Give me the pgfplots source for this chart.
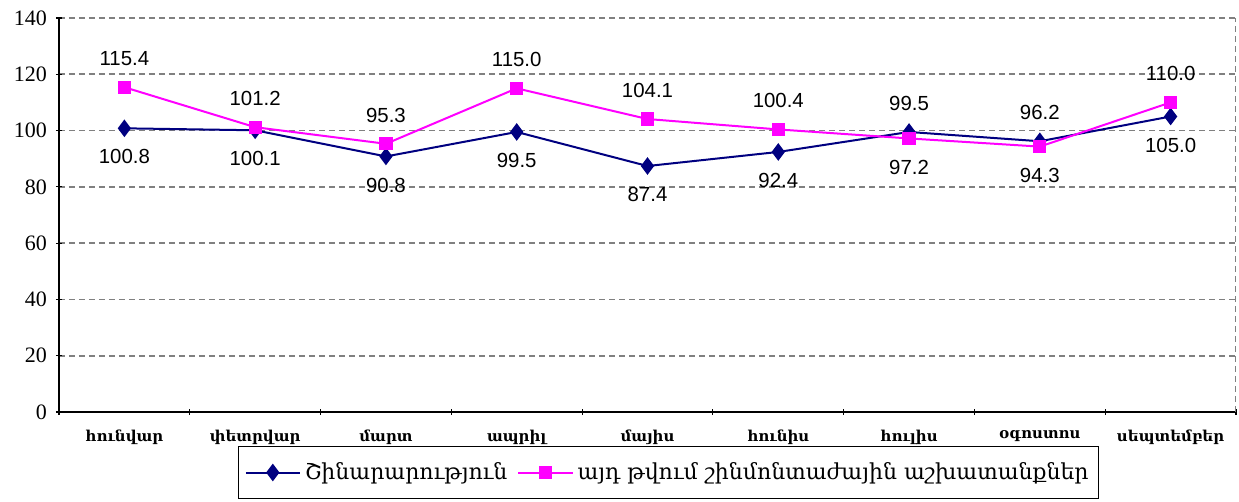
\documentclass[border=0pt]{standalone}
\usepackage{fontspec}
\setmainfont{Liberation Serif}
\newfontfamily\armfont{DejaVu Serif}
\newfontfamily\arial{Liberation Sans}
\usepackage{pgfplots}
\pgfplotsset{compat=1.18}
\definecolor{navyc}{RGB}{0,0,128}
\definecolor{magc}{RGB}{255,0,255}
\begin{document}
\begin{tikzpicture}
\begin{axis}[
  at={(0,0)}, anchor=south west,
  scale only axis,
  width=588.5pt, height=197pt,
  xmin=-0.5, xmax=8.5,
  ymin=0, ymax=140,
  ytick={0,20,...,140},
  xtick={0,...,8},
  xticklabels={հունվար,փետրվար,մարտ,ապրիլ,մայիս,հունիս,հուլիս,օգոստոս,սեպտեմբեր},
  minor xtick={-0.5,0.5,...,8.5},
  major x tick style={draw=none},
  minor tick length=3pt,
  major tick length=3pt,
  tick align=outside,
  tick style={black, line width=0.6pt},
  axis lines=left,
  axis line style={-, black, line width=0.6pt},
  ymajorgrids,
  major grid style={gray, dash pattern=on 3pt off 2pt, line width=0.9pt},
  /pgf/number format/assume math mode=true,
  yticklabel style={font=\fontsize{11}{13}\selectfont, xshift=-1pt},
  xticklabel style={font=\armfont\bfseries\fontsize{7.5}{9}\selectfont, yshift=-4pt},
  legend columns=2,
  legend style={at={(0.518,-0.1536)}, anchor=center, draw=black, line width=0.6pt,
    font=\armfont\fontsize{11}{13}\selectfont, inner xsep=3pt, inner ysep=6pt,
    /tikz/every even column/.append style={column sep=3pt}},
  legend image code/.code={\draw[#1] (0cm,0cm) -- (0.95cm,0cm); \draw[#1, only marks] plot coordinates {(0.475cm,0cm)};},
  lbl/.style={draw=none, mark=none, forget plot, nodes near coords, point meta=explicit symbolic,
    every node near coord/.append style={font=\arial\fontsize{10.2}{12}\selectfont, black, anchor=#1, inner ysep=10.5pt}},
]
\addplot[navyc, line width=1pt, mark=diamond*, mark size=3.6pt, mark options={solid, fill=navyc}]
  coordinates {(0,100.8) (1,100.1) (2,90.8) (3,99.5) (4,87.4) (5,92.4) (6,99.5) (7,96.2) (8,105.0)};
\addlegendentry{Շինարարություն}
\addplot[magc, line width=1pt, mark=square*, mark size=2.8pt, mark options={solid, fill=magc}]
  coordinates {(0,115.4) (1,101.2) (2,95.3) (3,115.0) (4,104.1) (5,100.4) (6,97.2) (7,94.3) (8,110.0)};
\addlegendentry{այդ թվում շինմոնտաժային աշխատանքներ}
% labels
\addplot[lbl=north] coordinates {(0,100.8)[100.8] (1,100.1)[100.1] (2,90.8)[90.8] (3,99.5)[99.5] (4,87.4)[87.4] (5,92.4)[92.4] (8,105.0)[105.0] (6,97.2)[97.2] (7,94.3)[94.3]};
\addplot[lbl=south] coordinates {(6,99.5)[99.5] (7,96.2)[96.2] (0,115.4)[115.4] (1,101.2)[101.2] (2,95.3)[95.3] (3,115.0)[115.0] (4,104.1)[104.1] (5,100.4)[100.4] (8,110.0)[110.0]};
\draw[gray, dash pattern=on 3pt off 2pt, line width=0.9pt] (rel axis cs:1,0) -- (rel axis cs:1,1);
\end{axis}
\pgfresetboundingbox
\path[use as bounding box] (-29.5pt,-45pt) rectangle (590pt,206pt);
\end{tikzpicture}
\end{document}
